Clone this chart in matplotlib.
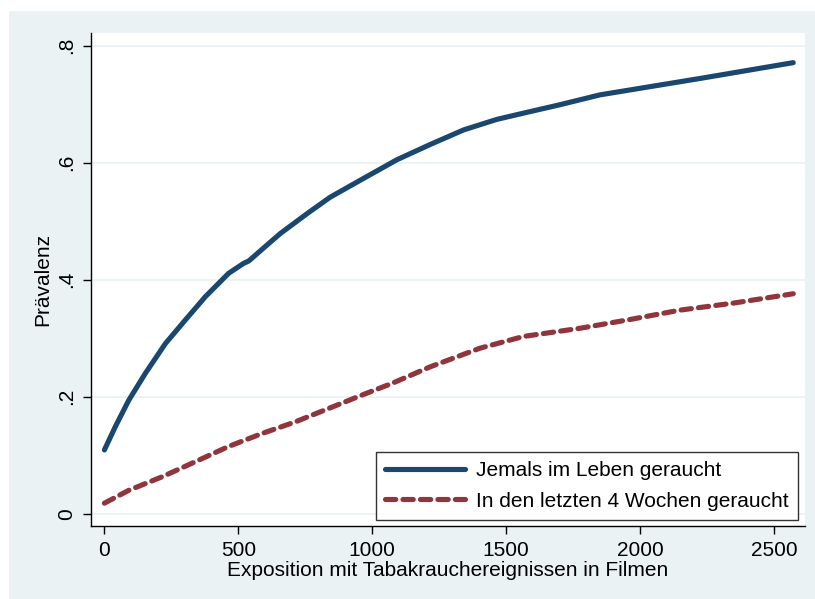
import matplotlib
matplotlib.use('Agg')
import matplotlib.pyplot as plt
from matplotlib.patches import Rectangle

# --- Data ---
x_ever = [0, 41, 91, 153, 228, 302, 377, 464, 520, 539, 614, 657, 760, 843, 967,
          1092, 1216, 1341, 1465, 1530, 1577, 1700, 1851, 2224, 2572]
y_ever = [0.109, 0.149, 0.194, 0.240, 0.291, 0.331, 0.371, 0.411, 0.428, 0.432,
          0.462, 0.479, 0.514, 0.541, 0.573, 0.605, 0.631, 0.656, 0.674, 0.681,
          0.686, 0.699, 0.716, 0.744, 0.771]

x_month = [0, 91, 215, 340, 464, 588, 713, 838, 963, 1075, 1216, 1403, 1565,
           1776, 1963, 2149, 2349, 2572]
y_month = [0.018, 0.040, 0.063, 0.089, 0.115, 0.137, 0.157, 0.180, 0.203, 0.223,
           0.251, 0.283, 0.303, 0.317, 0.332, 0.348, 0.360, 0.376]

xticks = [0, 500, 1000, 1500, 2000, 2500]
yticks = [0, 0.2, 0.4, 0.6, 0.8]
ytick_labels = ['0', '.2', '.4', '.6', '.8']

label_ever = 'Jemals im Leben geraucht'
label_month = 'In den letzten 4 Wochen geraucht'

# --- Style ---
plt.rcParams['font.family'] = ['Liberation Sans', 'DejaVu Sans']
BG = '#EAF2F3'
BLUE = '#1A476F'
RED = '#90353B'
FS = 15

W, H = 815, 599
fig = plt.figure(figsize=(W / 100, H / 100), dpi=100)
fig.patch.set_facecolor('white')
fig.patches.append(Rectangle((9 / W, 0), 1 - 9 / W, 1 - 11 / H,
                             transform=fig.transFigure, facecolor=BG,
                             edgecolor='none', zorder=-10))

# plot area in pixels: left 91, right 805, top 33, bottom 526
ax = fig.add_axes([91 / W, 1 - 526 / H, (805 - 91) / W, (526 - 33) / H])
ax.set_facecolor('white')

ax.plot(x_ever, y_ever, color=BLUE, lw=3.7, solid_capstyle='round',
        solid_joinstyle='round', label=label_ever, zorder=3)
ax.plot(x_month, y_month, color=RED, lw=3.7, dashes=(2.0, 1.4),
        dash_capstyle='round', dash_joinstyle='round', label=label_month, zorder=3)

ax.set_xlim(-50, 2616)
ax.set_ylim(-0.021, 0.8217)

ax.set_yticks(yticks)
ax.set_yticklabels(ytick_labels, rotation=90, va='center')
ax.set_xticks(xticks)

ax.grid(axis='y', color=BG, lw=1.3)
ax.set_axisbelow(True)

for s in ['top', 'right']:
    ax.spines[s].set_visible(False)
for s in ['left', 'bottom']:
    ax.spines[s].set_linewidth(1.0)

ax.tick_params(axis='both', direction='out', length=6, width=1.0,
               labelsize=FS, pad=4.5)

ax.set_ylabel('Prävalenz', fontsize=FS, labelpad=4)
ax.set_xlabel('Exposition mit Tabakrauchereignissen in Filmen', fontsize=FS,
              labelpad=1)

leg = ax.legend(loc='lower right', bbox_to_anchor=(707 / 714, 6 / 493),
                fontsize=FS, frameon=True, fancybox=False,
                edgecolor='black', handlelength=3.8, handletextpad=0.55,
                borderpad=0.45, labelspacing=0.55, borderaxespad=0)
leg.get_frame().set_linewidth(1.0)

fig.savefig('out.png', dpi=100, facecolor=fig.get_facecolor())
